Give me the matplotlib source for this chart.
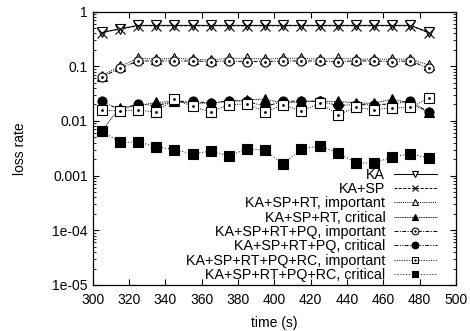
import matplotlib
matplotlib.use('agg')
import matplotlib.pyplot as plt
from matplotlib.ticker import LogLocator, NullFormatter
from matplotlib.legend_handler import HandlerTuple

plt.rcParams['font.family'] = ['Liberation Sans', 'DejaVu Sans']

# data
time = [305, 315, 325, 335, 345, 355, 365, 375, 385, 395,
        405, 415, 425, 435, 445, 455, 465, 475, 485]
ka = [0.42, 0.48, 0.56, 0.56, 0.56, 0.56, 0.56, 0.56, 0.56, 0.56,
      0.56, 0.56, 0.56, 0.56, 0.56, 0.56, 0.56, 0.56, 0.42]
ka_sp = [0.41, 0.48, 0.55, 0.55, 0.55, 0.55, 0.55, 0.55, 0.55, 0.55,
         0.55, 0.55, 0.55, 0.55, 0.55, 0.55, 0.55, 0.55, 0.41]
rt_imp = [0.067, 0.10, 0.14, 0.135, 0.14, 0.135, 0.13, 0.14, 0.14, 0.135,
          0.14, 0.14, 0.135, 0.14, 0.135, 0.135, 0.135, 0.135, 0.105]
rt_crit = [0.0066, 0.0173, 0.019, 0.0218, 0.0228, 0.021, 0.0213, 0.0228, 0.0244, 0.025,
           0.021, 0.0228, 0.0228, 0.0228, 0.0213, 0.021, 0.025, 0.021, 0.0144]
pq_imp = [0.063, 0.092, 0.125, 0.125, 0.125, 0.125, 0.122, 0.125, 0.122, 0.122,
          0.125, 0.125, 0.125, 0.122, 0.125, 0.125, 0.122, 0.125, 0.092]
pq_crit = [0.0228, 0.0161, 0.0205, 0.019, 0.0228, 0.0228, 0.0213, 0.0233, 0.0228, 0.0184,
           0.0228, 0.0233, 0.0228, 0.0193, 0.0198, 0.0198, 0.0205, 0.0233, 0.0144]
rc_imp = [0.0156, 0.0155, 0.0157, 0.0146, 0.0252, 0.0184, 0.0146, 0.0198, 0.0205, 0.0146,
          0.0198, 0.0150, 0.0213, 0.0130, 0.0177, 0.0161, 0.0173, 0.0177, 0.0262]
rc_crit = [0.0065, 0.0041, 0.0041, 0.0034, 0.0030, 0.0025, 0.0028, 0.0023, 0.0031, 0.0029,
           0.0016, 0.0031, 0.0035, 0.0026, 0.0017, 0.0017, 0.0022, 0.0025, 0.0021]

labels = ['KA', 'KA+SP', 'KA+SP+RT, important', 'KA+SP+RT, critical',
          'KA+SP+RT+PQ, important', 'KA+SP+RT+PQ, critical',
          'KA+SP+RT+PQ+RC, important', 'KA+SP+RT+PQ+RC, critical']

fig = plt.figure(figsize=(4.7, 3.31), dpi=100)
ax = fig.add_axes([0.197, 0.139, 0.773, 0.826])

lw = 0.7
ms = 6.5
common = dict(color='black', lw=lw, mec='black', mew=0.8)

h1, = ax.plot(time, ka, ls='-', marker='v', mfc='white', ms=ms, **common)
h2, = ax.plot(time, ka_sp, ls=(0, (3, 1.5)), marker='x', ms=ms, **common)
h3, = ax.plot(time, rt_imp, ls=(0, (1, 1.2)), marker='^', mfc='white', ms=ms, **common)
h4, = ax.plot(time, rt_crit, ls=(0, (1, 0.8)), marker='^', mfc='black', ms=ms, **common)
h5, = ax.plot(time, pq_imp, ls=(0, (4, 1.5, 1, 1.5)), marker='o', mfc='white', ms=ms, **common)
h5d, = ax.plot(time, pq_imp, ls='none', marker='.', ms=2, color='black')
h6, = ax.plot(time, pq_crit, ls=(0, (4, 1.5, 1, 1.5, 1, 1.5)), marker='o', mfc='black', ms=ms, **common)
h7, = ax.plot(time, rc_imp, ls=(0, (1, 1.5)), marker='s', mfc='white', ms=ms, **common)
h7d, = ax.plot(time, rc_imp, ls='none', marker='.', ms=2, color='black')
h8, = ax.plot(time, rc_crit, ls=(0, (1, 2)), marker='s', mfc='black', ms=ms, **common)

ax.set_yscale('log')
ax.set_xlim(300, 500)
ax.set_ylim(1e-5, 1)
ax.set_xticks(range(300, 501, 20))
ax.set_yticks([1e-5, 1e-4, 1e-3, 1e-2, 1e-1, 1])
ax.set_yticklabels(['1e-05', '1e-04', '0.001', '0.01', '0.1', '1'])
ax.yaxis.set_minor_locator(LogLocator(base=10, subs=range(2, 10)))
ax.yaxis.set_minor_formatter(NullFormatter())
ax.tick_params(which='both', direction='in', top=True, right=True, labelsize=10)
ax.tick_params(axis='x', which='major', pad=6)
ax.tick_params(which='major', length=4, width=0.8)
ax.tick_params(which='minor', length=2, width=0.6)
for s in ax.spines.values():
    s.set_linewidth(0.9)

ax.set_xlabel('time (s)', fontsize=10, labelpad=6)
ax.set_ylabel('loss rate', fontsize=10, labelpad=18)

handles = [h1, h2, h3, h4, (h5, h5d), h6, (h7, h7d), h8]
ax.legend(handles, labels, loc='lower right', bbox_to_anchor=(0.975, -0.025),
          markerfirst=False, frameon=False, fontsize=10.3, handlelength=3.0,
          labelspacing=0.02, handletextpad=0.6, borderpad=0.2, markerscale=0.75,
          handler_map={tuple: HandlerTuple(ndivide=1, pad=0)})

plt.savefig('out.png', dpi=100)
plt.close()
